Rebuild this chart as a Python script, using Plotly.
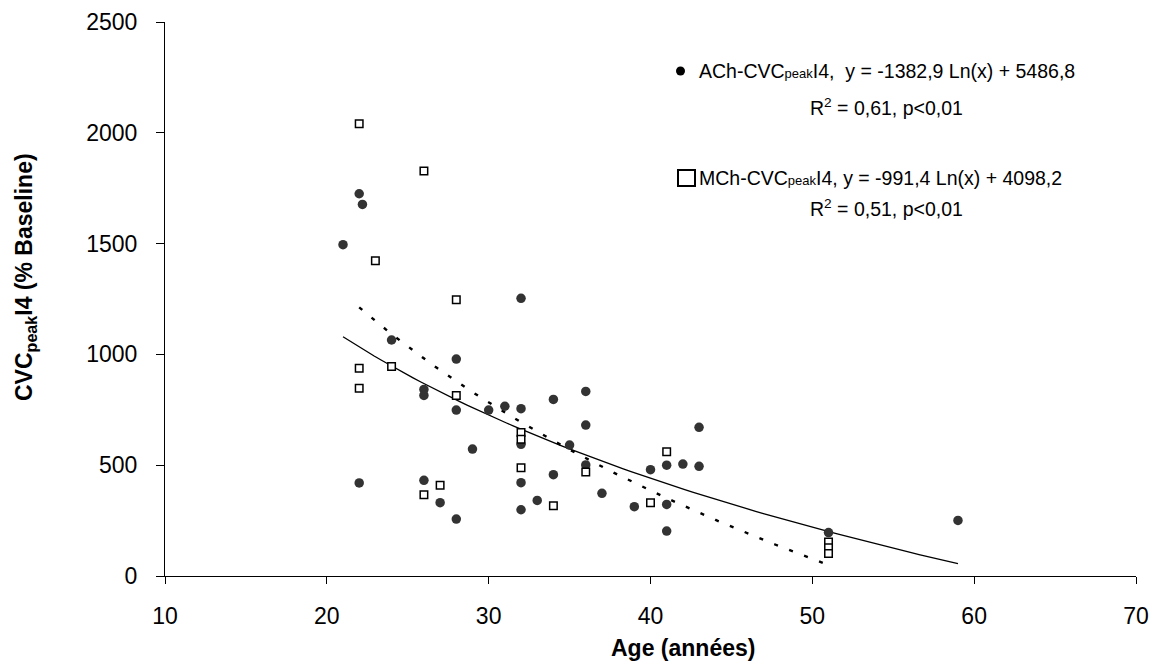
import numpy as np
import plotly.graph_objects as go

# ACh (filled circles)
ach_age = [21, 22, 22.2, 22, 24, 26, 26, 26, 27, 28, 28, 28, 29, 30, 31,
           32, 32, 32, 32, 32, 33, 34, 34, 35, 36, 36, 36, 37, 39, 40,
           41, 41, 41, 42, 43, 43, 51, 59]
ach_cvc = [1495, 1725, 1677, 420, 1065, 842, 815, 432, 331, 979, 749, 257, 573, 749, 766,
           1253, 755, 594, 421, 299, 341, 797, 457, 591, 833, 681, 501, 373, 313, 480,
           500, 323, 203, 505, 671, 495, 196, 251]

# MCh (open squares)
mch_age = [22, 22, 22, 23, 24, 26, 26, 27, 28, 28, 32, 32, 32, 34, 36, 40, 41, 51, 51, 51]
mch_cvc = [2041, 937, 847, 1423, 945, 1828, 367, 409, 1247, 815, 647, 617, 489, 317, 469,
           331, 561, 153, 128, 101]

# trend line coefficients (y = a Ln(x) + b) as drawn
solid_a, solid_b = -991.4, 4098.2
dash_a, dash_b = -1382.9, 5486.8

x_ticks = [10, 20, 30, 40, 50, 60, 70]
y_ticks = [0, 500, 1000, 1500, 2000, 2500]

FONT = "Liberation Sans, Arial, sans-serif"
W, H = 1152, 666
L, R, T, B = 165, 16, 22, 90
PW, PH = W - L - R, H - T - B


def px(x):
    return (x - L) / PW


def py(y):
    return (H - B - y) / PH


fig = go.Figure()

xs = np.linspace(min(ach_age), max(ach_age), 80)
fig.add_trace(go.Scatter(x=xs, y=solid_a * np.log(xs) + solid_b, mode="lines",
                         line=dict(color="black", width=1.3), hoverinfo="skip"))
xd = np.linspace(min(mch_age), max(mch_age), 80)
fig.add_trace(go.Scatter(x=xd, y=dash_a * np.log(xd) + dash_b, mode="lines",
                         line=dict(color="black", width=2.4, dash="4px,12px"),
                         hoverinfo="skip"))

fig.add_trace(go.Scatter(x=ach_age, y=ach_cvc, mode="markers", name="ACh",
                         marker=dict(symbol="circle", size=9.5, color="#333333")))
fig.add_trace(go.Scatter(x=mch_age, y=mch_cvc, mode="markers", name="MCh",
                         marker=dict(symbol="square", size=7.5, color="white",
                                     line=dict(color="black", width=1.5))))

small = "<span style='font-size:13px'>peak</span>"
ann = [
    dict(x=px(697), y=py(71), xanchor="left", yanchor="middle",
         text=f"ACh-CVC{small}I4,  y = -1382,9 Ln(x) + 5486,8"),
    dict(x=px(886), y=py(107), xanchor="center", yanchor="middle",
         text="R<sup>2</sup> = 0,61, p&lt;0,01"),
    dict(x=px(697), y=py(178), xanchor="left", yanchor="middle",
         text=f"MCh-CVC{small}I4, y = -991,4 Ln(x) + 4098,2"),
    dict(x=px(886), y=py(208), xanchor="center", yanchor="middle",
         text="R<sup>2</sup> = 0,51, p&lt;0,01"),
]
for a in ann:
    fig.add_annotation(xref="paper", yref="paper", showarrow=False,
                       font=dict(family=FONT, size=19.5, color="black"), **a)

fig.add_annotation(xref="paper", yref="paper", x=px(683), y=py(648), showarrow=False,
                   xanchor="center", yanchor="middle", text="<b>Age (années)</b>",
                   font=dict(family=FONT, size=23, color="black"))
fig.add_annotation(xref="paper", yref="paper", x=px(25), y=py(277), showarrow=False,
                   xanchor="center", yanchor="middle", textangle=-90,
                   text="<b>CVC<sub>peak</sub>I4 (% Baseline)</b>",
                   font=dict(family=FONT, size=23, color="black"))

# legend markers
fig.add_shape(type="circle", xref="paper", yref="paper",
              x0=px(676), x1=px(685), y0=py(75.5), y1=py(66.5),
              fillcolor="black", line=dict(width=0))
fig.add_shape(type="rect", xref="paper", yref="paper",
              x0=px(678), x1=px(695), y0=py(186), y1=py(170),
              fillcolor="white", line=dict(color="black", width=2))

fig.update_xaxes(range=[10, 70], tickvals=x_ticks, showgrid=False, zeroline=False,
                 showline=True, linecolor="black", linewidth=1, automargin=False,
                 ticks="outside", ticklen=7, tickcolor="black",
                 ticklabelstandoff=12,
                 tickfont=dict(family=FONT, size=23, color="black"))
fig.update_yaxes(range=[0, 2500], tickvals=y_ticks, showgrid=False, zeroline=False,
                 showline=True, linecolor="black", linewidth=1, automargin=False,
                 ticks="outside", ticklen=8, tickcolor="black",
                 ticklabelstandoff=14,
                 tickfont=dict(family=FONT, size=23, color="black"))

fig.update_layout(width=W, height=H, margin=dict(l=L, r=R, t=T, b=B),
                  plot_bgcolor="white", paper_bgcolor="white", showlegend=False)

fig.write_html("out.html", config={"displayModeBar": False})

# drop the default page margin so the figure fills the window exactly
with open("out.html", encoding="utf-8") as f:
    page = f.read()
page = page.replace("<body>", "<body style=\"margin:0;overflow:hidden\">", 1)
with open("out.html", "w", encoding="utf-8") as f:
    f.write(page)
